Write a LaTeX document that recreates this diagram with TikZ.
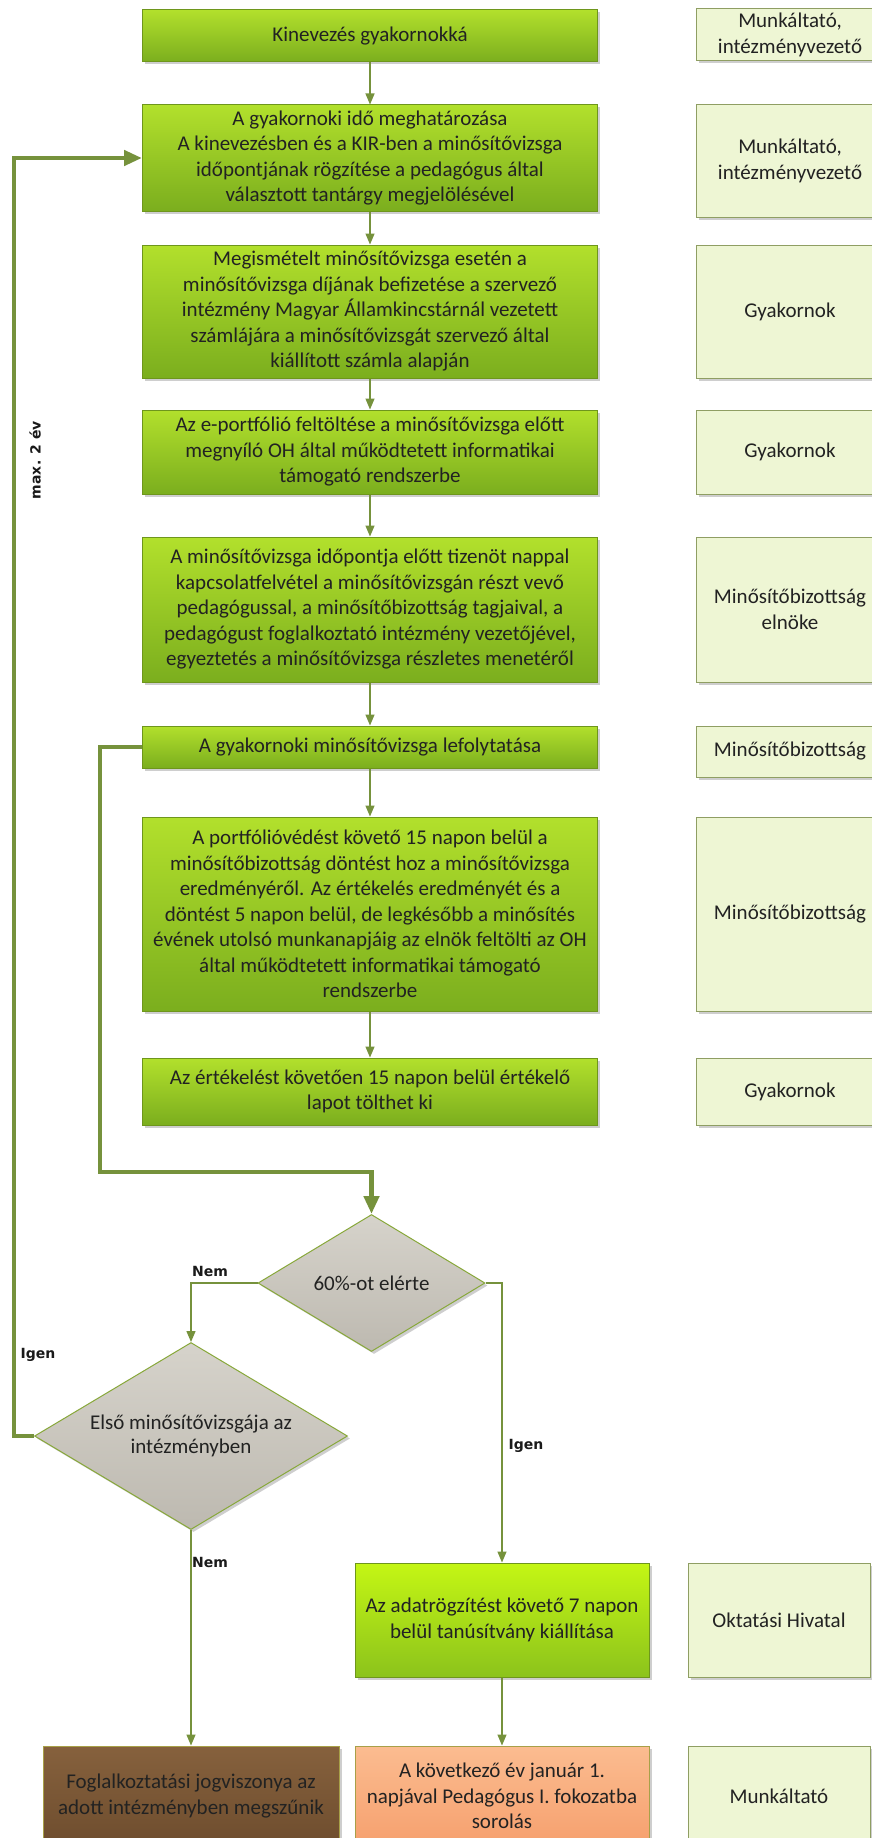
\documentclass[tikz,border=0pt]{standalone}
\usepackage{fontspec}
\setmainfont{Carlito}
\newfontfamily\lblfont{DejaVu Sans}
\usetikzlibrary{arrows.meta,shapes.geometric,shadows}
\definecolor{gtop}{HTML}{B2E02C}
\definecolor{gbot}{HTML}{7BAE1E}
\definecolor{gborder}{HTML}{6E961C}
\definecolor{ltop}{HTML}{C4F614}
\definecolor{lbot}{HTML}{8CC31C}
\definecolor{rfill}{HTML}{EEF6D4}
\definecolor{rborder}{HTML}{8F9E63}
\definecolor{dtop}{HTML}{D6D3CB}
\definecolor{dbot}{HTML}{BDB9B0}
\definecolor{dborder}{HTML}{88A83A}
\definecolor{btop}{HTML}{86613D}
\definecolor{bbot}{HTML}{6E4D2E}
\definecolor{otop}{HTML}{FBBC90}
\definecolor{obot}{HTML}{F6A06E}
\definecolor{oborder}{HTML}{A8A048}
\definecolor{conncol}{HTML}{76923C}
\definecolor{txt}{HTML}{222222}
\definecolor{lbltxt}{HTML}{1A1A1A}
\tikzset{
  conn/.style={draw=conncol, line width=1.3pt, -{Triangle[width=9pt,length=11pt]}},
  thickconn/.style={draw=conncol, line width=4.5pt, -{Triangle[width=15pt,length=18pt]}},
  myshadow/.style={drop shadow={shadow xshift=2.5pt, shadow yshift=-2.5pt, opacity=0.35, fill=black!55}},
  boxbase/.style={rectangle, align=center, inner sep=0pt, font=\fontsize{21}{25.5}\selectfont, text=txt, line width=1pt, myshadow},
  stepbox/.style={boxbase, draw=gborder, top color=gtop, bottom color=gbot, minimum width=455pt},
  limebox/.style={boxbase, draw=gborder, top color=ltop, bottom color=lbot},
  brownbox/.style={boxbase, draw=oborder, top color=btop, bottom color=bbot},
  orangebox/.style={boxbase, draw=oborder, top color=otop, bottom color=obot},
  rolebox/.style={boxbase, draw=rborder, fill=rfill, minimum width=188pt},
  decision/.style={diamond, aspect=1.66, draw=dborder, line width=1pt, top color=dtop, bottom color=dbot, inner sep=0pt, align=center, font=\fontsize{21}{24}\selectfont, text=txt, myshadow},
  lbl/.style={font=\lblfont\bfseries\fontsize{14}{16}\selectfont, text=lbltxt, inner sep=0pt},
}
\begin{document}
\begin{tikzpicture}[x=1pt,y=-1pt]
\useasboundingbox (0,0) rectangle (872,1838);
\fill[white] (0,0) rectangle (872,1838);
\clip (0,0) rectangle (872,1838);

% main column
\node[stepbox, minimum height=52pt] (A) at (370,36) {Kinevezés gyakornokká};
\node[stepbox, minimum height=106pt] (B) at (370,158) {A gyakornoki idő meghatározása\\A kinevezésben és a KIR-ben a minősítővizsga\\időpontjának rögzítése a pedagógus által\\választott tantárgy megjelölésével};
\node[stepbox, minimum height=133pt] (C) at (370,311.5) {Megismételt minősítővizsga esetén a\\minősítővizsga díjának befizetése a szervező\\intézmény Magyar Államkincstárnál vezetett\\számlájára a minősítővizsgát szervező által\\kiállított számla alapján};
\node[stepbox, minimum height=84pt] (D) at (370,452) {Az e-portfólió feltöltése a minősítővizsga előtt\\megnyíló OH által működtetett informatikai\\támogató rendszerbe};
\node[stepbox, minimum height=145pt] (E) at (370,609.5) {A minősítővizsga időpontja előtt tizenöt nappal\\kapcsolatfelvétel a minősítővizsgán részt vevő\\pedagógussal, a minősítőbizottság tagjaival, a\\pedagógust foglalkoztató intézmény vezetőjével,\\egyeztetés a minősítővizsga részletes menetéről};
\node[stepbox, minimum height=42pt] (F) at (370,747) {A gyakornoki minősítővizsga lefolytatása};
\node[stepbox, minimum height=194pt] (G) at (370,914) {A portfólióvédést követő 15 napon belül a\\minősítőbizottság döntést hoz a minősítővizsga\\eredményéről. Az értékelés eredményét és a\\döntést 5 napon belül, de legkésőbb a minősítés\\évének utolsó munkanapjáig az elnök feltölti az OH\\által működtetett informatikai támogató\\rendszerbe};
\node[stepbox, minimum height=67pt] (H) at (370,1091.5) {Az értékelést követően 15 napon belül értékelő\\lapot tölthet ki};

% role column
\node[rolebox, minimum height=52pt] (RA) at (790,35) {Munkáltató,\\intézményvezető};
\node[rolebox, minimum height=112pt] (RB) at (790,161) {Munkáltató,\\intézményvezető};
\node[rolebox, minimum height=133pt] (RC) at (790,311.5) {Gyakornok};
\node[rolebox, minimum height=84pt] (RD) at (790,452) {Gyakornok};
\node[rolebox, minimum height=145pt] (RE) at (790,609.5) {Minősítőbizottság\\elnöke};
\node[rolebox, minimum height=51pt] (RF) at (790,751.5) {Minősítőbizottság};
\node[rolebox, minimum height=194pt] (RG) at (790,914) {Minősítőbizottság};
\node[rolebox, minimum height=67pt] (RH) at (790,1091.5) {Gyakornok};

% decisions
\node[decision, minimum width=227pt, minimum height=137pt] (D1) at (371.5,1283) {60\%-ot elérte};
\node[decision, minimum width=313pt, minimum height=187pt] (D2) at (191,1436) {Első minősítővizsgája az\\intézményben};

% lower boxes
\node[limebox, minimum width=294pt, minimum height=114pt] (J) at (502,1620) {Az adatrögzítést követő 7 napon\\belül tanúsítvány kiállítása};
\node[rolebox, minimum width=182pt, minimum height=114pt] (RJ) at (779,1620) {Oktatási Hivatal};
\node[brownbox, minimum width=296pt, minimum height=100pt] (I) at (191,1796) {Foglalkoztatási jogviszonya az\\adott intézményben megszűnik};
\node[orangebox, minimum width=294pt, minimum height=100pt] (K) at (502,1796) {A következő év január 1.\\napjával Pedagógus I. fokozatba\\sorolás};
\node[rolebox, minimum width=182pt, minimum height=100pt] (RK) at (779,1796) {Munkáltató};

% connectors
\draw[conn] (A) -- (B);
\draw[conn] (B) -- (C);
\draw[conn] (C) -- (D);
\draw[conn] (D) -- (E);
\draw[conn] (E) -- (F);
\draw[conn] (F) -- (G);
\draw[conn] (G) -- (H);
\coordinate (fl) at (100,1172);
\draw[thickconn] (F.west) -| (fl) -| (D1.north);
\draw[conn] (D1.west) -| (D2.north);
\draw[conn] (D1.east) -| (J.north);
\coordinate (ll) at (14,1436);
\draw[thickconn] (D2.west) -- (ll) |- (B.west);
\draw[conn] (D2.south) -- (I.north);
\draw[conn] (J) -- (K);

% labels
\node[lbl] (nem1) at (210,1271) {Nem};
\node[lbl] (igen1) at (38,1355) {Igen};
\node[lbl] (nem2) at (210,1562) {Nem};
\node[lbl] (igen2) at (526,1446) {Igen};
\node[lbl, rotate=90] (maxev) at (35,460) {max. 2 év};
\end{tikzpicture}
\end{document}
